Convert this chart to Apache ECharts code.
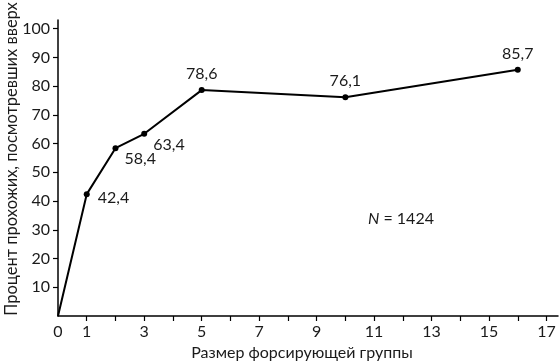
<!DOCTYPE html>
<html><head><meta charset="utf-8">
<script src="https://cdn.jsdelivr.net/npm/echarts@6/dist/echarts.min.js"></script>
<style>html,body{margin:0;padding:0;background:#fff}#c{width:560px;height:363px}</style>
</head><body><div id="c"></div>
<script>
const groupSizes = [0, 1, 2, 3, 5, 10, 16];
const percentLookedUp = [0, 42.4, 58.4, 63.4, 78.6, 76.1, 85.7];
const labelPositions = [null, 'right', 'bottomRight', 'bottomRight', 'top', 'top', 'top'];
const xTickLabels = [0, 1, 3, 5, 7, 9, 11, 13, 15, 17];
const xTicks = [1, 2, 3, 4, 5, 6, 7, 8, 9, 10, 11, 12, 13, 14, 15, 16, 17];
const yTickLabels = [10, 20, 30, 40, 50, 60, 70, 80, 90, 100];
const xTitle = 'Размер форсирующей группы';
const yTitle = 'Процент прохожих, посмотревших вверх';
const FONT = 'Lato';
const FS = 16;
const fmt = v => String(v).replace('.', ',');

const data = groupSizes.map((x, i) => {
  const p = labelPositions[i];
  const d = { value: [x, percentLookedUp[i]] };
  if (!p) { d.label = { show: false }; d.symbolSize = 0; }
  else if (p === 'right') d.label = { position: 'right', distance: 8, offset: [0, 4] };
  else if (p === 'bottomRight') d.label = { position: 'right', distance: 6, offset: [0, 11] };
  else d.label = { position: 'top', distance: 5 };
  return d;
});

const chart = echarts.init(document.getElementById('c'));
chart.setOption({
  animation: false,
  grid: { left: 58, right: 2, top: 20, bottom: 47, outerBoundsMode: 'none', containLabel: false },
  xAxis: {
    type: 'value', min: 0, max: 17.4,
    name: xTitle, nameLocation: 'middle', nameGap: 29,
    nameTextStyle: { fontFamily: FONT, fontSize: FS, color: '#1a1a1a', padding: [0, 12, 0, 0] },
    axisLine: { show: true, lineStyle: { color: '#000', width: 1.5 } },
    axisTick: { show: true, customValues: xTicks, length: 5, lineStyle: { color: '#000', width: 1.2 } },
    axisLabel: { customValues: xTickLabels, fontFamily: FONT, fontSize: FS, color: '#1a1a1a', margin: 8 },
    splitLine: { show: false }
  },
  yAxis: {
    type: 'value', min: 0, max: 103,
    axisLine: { show: true, lineStyle: { color: '#000', width: 1.5 } },
    axisTick: { show: true, customValues: yTickLabels, length: 5, lineStyle: { color: '#000', width: 1.2 } },
    axisLabel: { customValues: yTickLabels, fontFamily: FONT, fontSize: FS, color: '#1a1a1a', margin: 8 },
    splitLine: { show: false }
  },
  series: [{
    type: 'line', data: data,
    symbol: 'circle', symbolSize: 6,
    lineStyle: { color: '#000', width: 2 },
    itemStyle: { color: '#000' },
    label: { show: true, fontFamily: FONT, fontSize: FS, color: '#1a1a1a',
      formatter: p => fmt(p.value[1]) }
  }],
  graphic: [{
    type: 'text', x: 12, y: 159, rotation: Math.PI / 2,
    style: {
      text: yTitle, font: '16.5px Lato', fill: '#1a1a1a',
      textAlign: 'center', textVerticalAlign: 'middle'
    }
  }, {
    type: 'text', left: 368, top: 211,
    style: {
      text: '{i|N} = 1424',
      rich: { i: { fontStyle: 'italic', fontFamily: FONT, fontSize: FS, fill: '#1a1a1a' } },
      font: FS + 'px Lato', fill: '#1a1a1a'
    }
  }]
});
</script></body></html>
